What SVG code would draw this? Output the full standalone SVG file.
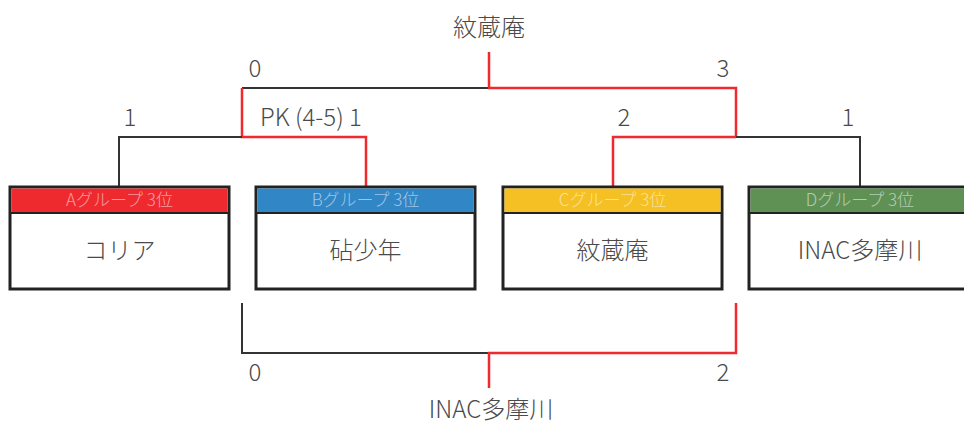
<svg xmlns="http://www.w3.org/2000/svg" width="964" height="426" viewBox="0 0 964 426">
<style>
text{font-family:"Noto Sans CJK JP","Noto Sans",sans-serif;font-weight:300;fill:#4a4a4a}
.lbl{font-size:24px}
.name{font-size:24px;text-anchor:middle}
.hdr{font-size:17px;text-anchor:middle;fill:#fff;fill-opacity:0.55}
.box{fill:#fff;stroke:#222;stroke-width:3}
.hline{stroke:#222;stroke-width:2}
.k{fill:none;stroke:#333;stroke-width:2}
.r{fill:none;stroke:#ee2a2f;stroke-width:2.5}
</style>
<rect width="964" height="426" fill="#fff"/>
<g id="connectors">
<polyline class="k" points="242,88 489,88"/>
<polyline class="r" points="489,52 489,88 736,88 736,137"/>
<polyline class="r" points="242,88 242,137 366,137 366,187"/>
<polyline class="k" points="242,137 119,137 119,187"/>
<polyline class="r" points="736,137 613,137 613,187"/>
<polyline class="k" points="736,137 860,137 860,187"/>
<polyline class="k" points="242,303 242,353 489,353"/>
<polyline class="r" points="489,388 489,353 736,353 736,303"/>
</g>
<g id="labels">
<text class="lbl" x="489" y="36" text-anchor="middle">紋蔵庵</text>
<text class="lbl" x="255" y="77" text-anchor="middle">0</text>
<text class="lbl" x="723" y="77" text-anchor="middle">3</text>
<text class="lbl" x="130" y="126" text-anchor="middle">1</text>
<text class="lbl" x="260" y="126">PK (4-5) 1</text>
<text class="lbl" x="624" y="126" text-anchor="middle">2</text>
<text class="lbl" x="848" y="126" text-anchor="middle">1</text>
<text class="lbl" x="255" y="381" text-anchor="middle">0</text>
<text class="lbl" x="723" y="381" text-anchor="middle">2</text>
<text class="lbl" x="491" y="418" text-anchor="middle">INAC多摩川</text>
</g>
<g id="nodeA">
<rect class="box" x="10" y="187" width="219" height="102"/>
<rect x="11.5" y="188.5" width="216" height="24" fill="#ee2a2f"/>
<line class="hline" x1="10" y1="213" x2="229" y2="213"/>
<text class="hdr" x="119.5" y="206">Aグループ 3位</text>
<text class="name" x="119.5" y="259">コリア</text>
</g>
<g id="nodeB">
<rect class="box" x="256" y="187" width="219" height="102"/>
<rect x="257.5" y="188.5" width="216" height="24" fill="#3186c6"/>
<line class="hline" x1="256" y1="213" x2="475" y2="213"/>
<text class="hdr" x="365.5" y="206">Bグループ 3位</text>
<text class="name" x="365.5" y="259">砧少年</text>
</g>
<g id="nodeC">
<rect class="box" x="503" y="187" width="219" height="102"/>
<rect x="504.5" y="188.5" width="216" height="24" fill="#f5c023"/>
<line class="hline" x1="503" y1="213" x2="722" y2="213"/>
<text class="hdr" x="612.5" y="206">Cグループ 3位</text>
<text class="name" x="612.5" y="259">紋蔵庵</text>
</g>
<g id="nodeD">
<rect class="box" x="749" y="187" width="219" height="102"/>
<rect x="750.5" y="188.5" width="216" height="24" fill="#5f9155"/>
<line class="hline" x1="749" y1="213" x2="968" y2="213"/>
<text class="hdr" x="860" y="206">Dグループ 3位</text>
<text class="name" x="860" y="259">INAC多摩川</text>
</g>
</svg>
